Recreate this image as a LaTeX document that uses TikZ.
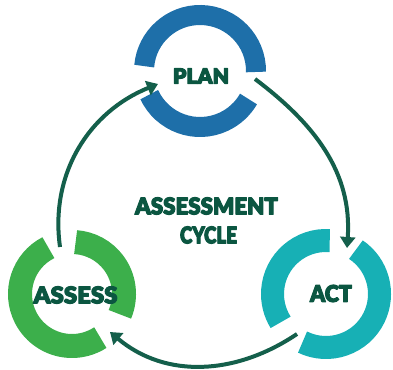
\documentclass[tikz,border=0pt]{standalone}
\usepackage{fontspec}
\setmainfont{Liberation Sans}
\newfontfamily\heavyfont{Lato Black}
\usetikzlibrary{arrows.meta}
\definecolor{planblue}{HTML}{1E6FA9}
\definecolor{assessgreen}{HTML}{3CAF4B}
\definecolor{actteal}{HTML}{17B0B5}
\definecolor{textdark}{HTML}{0B5641}
\definecolor{linkdark}{HTML}{145F4B}
\newcommand\hfit[2]{\pgfmathsetmacro\hfitratio{#1/width("#2")}\scalebox{\hfitratio}[1]{\special{pdf:literal direct 2 Tr 1.1 w 1 j}#2\special{pdf:literal direct 0 Tr}}}
\begin{document}
\begin{tikzpicture}[x=1pt,y=1pt,
  lbl/.style={inner sep=0pt, text=textdark, font=\heavyfont\fontsize{23}{27}\selectfont},
  link/.style={draw=linkdark, line width=4pt, -{Triangle[length=11pt,width=15pt]}}
]
\useasboundingbox (0,0) rectangle (393,369);
\coordinate (pc) at (200,298);
\coordinate (sc) at (72,75);
\coordinate (ac) at (326,75);
% PLAN ring
\draw[planblue, line width=20pt] (pc) ++(-1:56) arc[start angle=-1,end angle=175,radius=56];
\draw[planblue, line width=20pt] (pc) ++(205:56) arc[start angle=205,end angle=330,radius=56];
% ASSESS ring
\draw[assessgreen, line width=24pt] (sc) ++(-23:52) arc[start angle=-23,end angle=86,radius=52];
\draw[assessgreen, line width=24pt] (sc) ++(117:52) arc[start angle=117,end angle=303,radius=52];
% ACT ring
\draw[actteal, line width=23pt] (ac) ++(86:53.5) arc[start angle=86,end angle=212,radius=53.5];
\draw[actteal, line width=23pt] (ac) ++(244:53.5) arc[start angle=244,end angle=416,radius=53.5];
% labels
\node[lbl, font=\heavyfont\fontsize{21}{26}\selectfont] (plan) at (201,293) {\hfit{56}{PLAN}};
\node[lbl] (assess) at (75.5,74) {\hfit{84}{ASSESS}};
\node[lbl] (act) at (331,75.5) {\hfit{42}{ACT}};
\node[lbl] (title1) at (206.5,163) {\hfit{143}{ASSESSMENT}};
\node[lbl] (title2) at (208.5,134) {\hfit{57}{CYCLE}};
% connectors
\coordinate (l1) at (60,122);
\coordinate (l2) at (158,285);
\coordinate (r1) at (255,290);
\coordinate (r2) at (347,121);
\coordinate (b1) at (297,35);
\coordinate (b2) at (110,37);
\draw[link] (l1) to[out=98,in=202] (l2);
\draw[link] (r1) to[out=-37,in=86] (r2);
\draw[link] (b1) to[out=214,in=320] (b2);
\end{tikzpicture}
\end{document}
